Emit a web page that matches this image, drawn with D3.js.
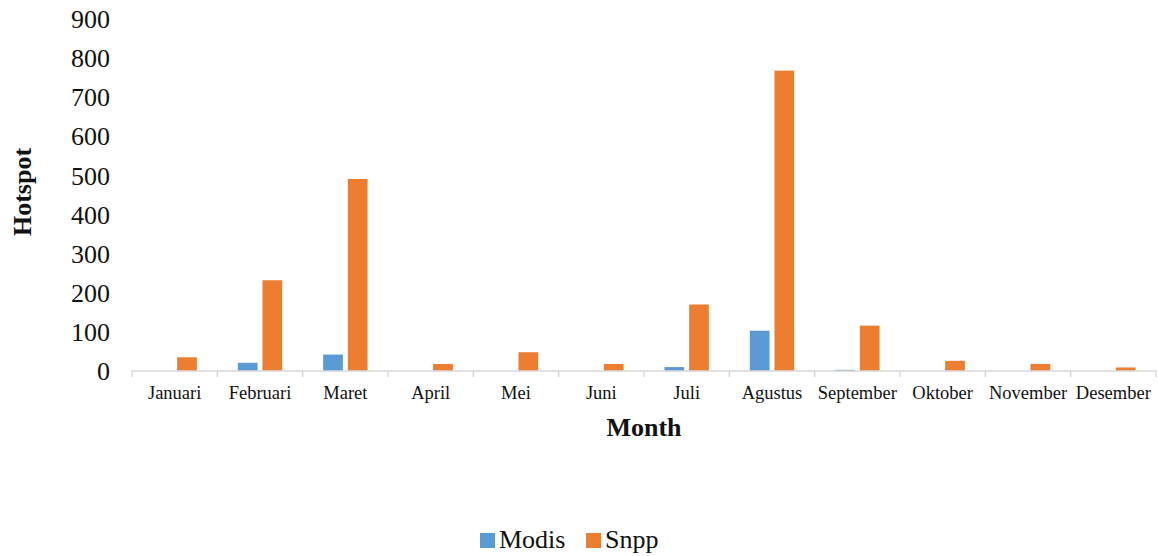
<!DOCTYPE html>
<html>
<head>
<meta charset="utf-8">
<script src="https://cdn.jsdelivr.net/npm/d3@7"></script>
<style>
  body { margin: 0; background: #fff; }
  svg { display: block; }
</style>
</head>
<body>
<div id="chart"></div>
<script>
// data
var months = ['Januari', 'Februari', 'Maret', 'April', 'Mei', 'Juni', 'Juli', 'Agustus', 'September', 'Oktober', 'November', 'Desember'];
var seriesNames = ['Modis', 'Snpp'];
var modis = [0, 21, 42, 0, 0, 0, 10, 103, 3, 0, 0, 0];
var snpp = [35, 232, 491, 18, 48, 18, 170, 768, 116, 26, 18, 9];
var yTicks = [0, 100, 200, 300, 400, 500, 600, 700, 800, 900];

var colors = { 'Modis': '#5b9bd5', 'Snpp': '#ed7d31' };

const width = 1158;
const height = 556;
const font = '"Liberation Serif", "Times New Roman", serif';

const rows = months.map(function (m, i) {
    return { month: m, Modis: modis[i], Snpp: snpp[i] };
});

const svg = d3.select('#chart').append('svg')
    .attr('width', width)
    .attr('height', height)
    .style('font-family', font);

const x = d3.scaleBand()
    .domain(months)
    .range([132, 1156])
    .paddingInner(0)
    .paddingOuter(0);

const xs = d3.scaleBand()
    .domain(seriesNames)
    .range([0, x.bandwidth()])
    .paddingInner(0.2)
    .paddingOuter(0.83);

const y = d3.scaleLinear()
    .domain([0, 900])
    .range([371, 19]);

// bars
const groups = svg.append('g').selectAll('g')
    .data(rows)
    .join('g')
    .attr('transform', d => 'translate(' + x(d.month) + ',0)');

groups.selectAll('rect')
    .data(d => seriesNames.map(s => ({ key: s, value: d[s] })))
    .join('rect')
    .attr('x', d => xs(d.key))
    .attr('y', d => y(d.value))
    .attr('width', xs.bandwidth())
    .attr('height', d => y(0) - y(d.value))
    .attr('fill', d => colors[d.key]);

// x axis
const xAxis = svg.append('g')
    .attr('transform', 'translate(0,' + y(0) + ')');

xAxis.append('line')
    .attr('x1', x.range()[0])
    .attr('x2', x.range()[1])
    .attr('stroke', '#d9d9d9')
    .attr('stroke-width', 1.5);

xAxis.selectAll('.tick')
    .data(months.concat(['end']))
    .join('line')
    .attr('class', 'tick')
    .attr('x1', (d, i) => x.range()[0] + i * x.step())
    .attr('x2', (d, i) => x.range()[0] + i * x.step())
    .attr('y1', 0)
    .attr('y2', 6)
    .attr('stroke', '#d9d9d9')
    .attr('stroke-width', 1.5);

xAxis.selectAll('text')
    .data(months)
    .join('text')
    .attr('x', d => x(d) + x.bandwidth() / 2)
    .attr('y', 28)
    .attr('text-anchor', 'middle')
    .attr('font-size', 18.5)
    .attr('fill', '#111')
    .text(d => d);

// y axis labels (no line, like the original)
svg.append('g').selectAll('text')
    .data(yTicks)
    .join('text')
    .attr('x', 110)
    .attr('y', d => y(d))
    .attr('dy', '0.35em')
    .attr('text-anchor', 'end')
    .attr('font-size', 26)
    .attr('fill', '#111')
    .text(d => d);

// axis titles
svg.append('text')
    .attr('x', 644)
    .attr('y', 436)
    .attr('text-anchor', 'middle')
    .attr('font-size', 26)
    .style('font-weight', 'bold')
    .attr('fill', '#111')
    .text('Month');

svg.append('text')
    .attr('transform', 'translate(31,192) rotate(-90)')
    .attr('text-anchor', 'middle')
    .attr('font-size', 26)
    .style('font-weight', 'bold')
    .attr('fill', '#111')
    .text('Hotspot');

// legend
const legend = svg.append('g');
const legendX = [480, 586];
seriesNames.forEach(function (s, i) {
    legend.append('rect')
        .attr('x', legendX[i])
        .attr('y', 533)
        .attr('width', 15)
        .attr('height', 15)
        .attr('fill', colors[s]);
    legend.append('text')
        .attr('x', legendX[i] + 19)
        .attr('y', 548)
        .attr('font-size', 26)
        .attr('fill', '#111')
        .text(s);
});
</script>
</body>
</html>
